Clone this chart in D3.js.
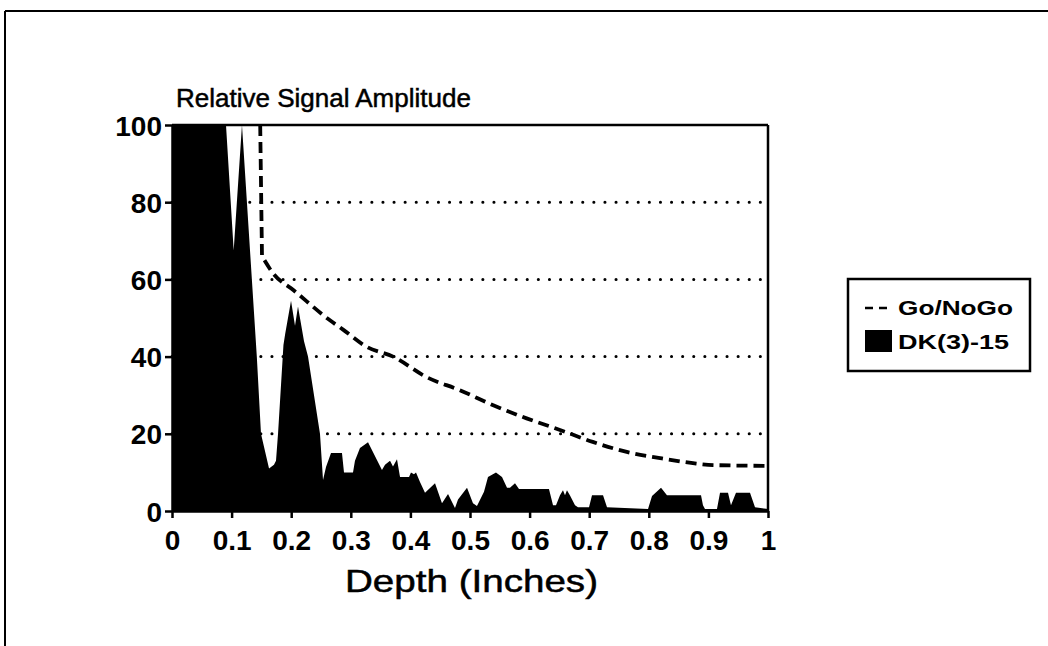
<!DOCTYPE html>
<html>
<head>
  <meta charset="UTF-8">
  <title>Relative Signal Amplitude</title>
  <script src="https://d3js.org/d3.v7.min.js"></script>
  <style>
    body { margin: 0; background: #fff; font-family: "Liberation Sans", Arial, sans-serif; }
    svg text { fill: #000; }
  </style>
</head>
<body>
  <div id="chart"></div>
  <script>
    // DK(3)-15 signal, depth (in) vs amplitude
    const signalDepth = [0, 0.0906, 0.1035, 0.1174, 0.1423, 0.1493, 0.1628, 0.1711, 0.1745, 0.1779, 0.187, 0.190, 0.1997, 0.2064, 0.2114, 0.2215, 0.2282, 0.2483, 0.2534,
      0.2584, 0.2668, 0.2852, 0.2886, 0.3037, 0.3070, 0.3154, 0.3289, 0.3523, 0.3574, 0.3658, 0.3708, 0.3775, 0.3826, 0.3977, 0.4010, 0.4060, 0.4094, 0.4161, 0.4245,
      0.4413, 0.4530, 0.4631, 0.4748, 0.4799, 0.4950, 0.5050, 0.5117, 0.5235, 0.5302, 0.5436, 0.5537, 0.5621, 0.5671, 0.5755, 0.5822, 0.6325, 0.6393, 0.6443,
      0.6510, 0.6560, 0.6594, 0.6627, 0.6678, 0.6762, 0.6812, 0.6997, 0.7047, 0.7232, 0.7299, 0.7987, 0.8054, 0.8205, 0.8305, 0.8876, 0.8909, 0.8943, 0.9144,
      0.9195, 0.9329, 0.9379, 0.9463, 0.9698, 0.9782, 1.0];
    const signalAmp = [100, 100, 67.5, 100, 40, 20, 11, 12, 13, 20, 43, 46, 54.5, 48, 53, 44, 40, 20, 8,
      11.4, 15, 15, 10, 10, 13, 16.3, 17.8, 10.6, 12, 13, 11.5, 13.4, 8.8, 8.8, 10, 9.5, 10, 7.5, 4.7,
      7.2, 2, 4.4, 0.8, 3, 6, 2, 1.3, 5, 8.8, 10, 8.8, 6, 6, 7.2, 5.7, 5.7, 1.5, 1.5,
      4.1, 5.4, 4.1, 5.4, 4, 1.5, 1, 1, 4.1, 4.1, 1, 0.5, 3.9, 6, 4.1, 4.1, 1.5, 0.5, 0.5,
      4.7, 4.7, 1.5, 4.7, 4.7, 1, 0.5];

    // Go/NoGo threshold curve
    const limitDepth = [0.148, 0.151, 0.170, 0.204, 0.265, 0.287, 0.327, 0.371, 0.427, 0.483, 0.539, 0.595, 0.651, 0.706, 0.763, 0.819, 0.874, 0.908, 1.0];
    const limitAmp = [100, 66, 61.5, 57.2, 49.4, 47, 42.5, 40, 34.7, 31.3, 27.4, 24, 21, 17.9, 15.3, 13.7, 12.4, 11.9, 11.7];

    const xTicks = [0, 0.1, 0.2, 0.3, 0.4, 0.5, 0.6, 0.7, 0.8, 0.9, 1];
    const yTicks = [0, 20, 40, 60, 80, 100];
    const gridValues = [20, 40, 60, 80];
    const seriesNames = ["Go/NoGo", "DK(3)-15"];

    const W = 1048, H = 646;
    const margin = { top: 125, left: 172 };
    const width = 596, height = 386;

    const svg = d3.select("#chart").append("svg")
      .attr("width", W).attr("height", H);

    // outer frame (top + left edges visible)
    svg.append("line").attr("x1", 5).attr("x2", W).attr("y1", 11).attr("y2", 11)
      .attr("stroke", "#000").attr("stroke-width", 2);
    svg.append("line").attr("x1", 5).attr("x2", 5).attr("y1", 11).attr("y2", H)
      .attr("stroke", "#000").attr("stroke-width", 2);

    const g = svg.append("g").attr("transform", `translate(${margin.left},${margin.top})`);

    const x = d3.scaleLinear().domain([0, 1]).range([0, width]);
    const y = d3.scaleLinear().domain([0, 100]).range([height, 0]);

    g.append("clipPath").attr("id", "plotClip")
      .append("rect").attr("width", width).attr("height", height);

    // dotted grid
    g.selectAll(".grid").data(gridValues).enter().append("line")
      .attr("class", "grid")
      .attr("x1", 0).attr("x2", width)
      .attr("y1", d => y(d)).attr("y2", d => y(d))
      .attr("stroke", "#000").attr("stroke-width", 3)
      .attr("stroke-linecap", "round")
      .attr("stroke-dasharray", "0.1 11");

    const signal = signalDepth.map((d, i) => ({ x: d, y: signalAmp[i] }));
    const limit = limitDepth.map((d, i) => ({ x: d, y: limitAmp[i] }));

    const area = d3.area().x(d => x(d.x)).y0(y(0)).y1(d => y(d.y));
    g.append("path").datum(signal)
      .attr("clip-path", "url(#plotClip)")
      .attr("d", area).attr("fill", "#000");

    const line = d3.line().x(d => x(d.x)).y(d => y(d.y)).curve(d3.curveMonotoneX);
    g.append("path").datum(limit)
      .attr("clip-path", "url(#plotClip)")
      .attr("d", d3.line().x(d => x(d.x)).y(d => y(d.y))(limit.slice(0, 2)) + line(limit.slice(1)).replace(/^M/, "L"))
      .attr("fill", "none").attr("stroke", "#000")
      .attr("stroke-width", 3.8).attr("stroke-dasharray", "11 6");

    // plot frame: top and right
    g.append("line").attr("x1", 0).attr("x2", width).attr("y1", 0).attr("y2", 0)
      .attr("stroke", "#000").attr("stroke-width", 2.5);
    g.append("line").attr("x1", width).attr("x2", width).attr("y1", 0).attr("y2", height)
      .attr("stroke", "#000").attr("stroke-width", 2.5);

    const xAxis = g.append("g").attr("transform", `translate(0,${height})`)
      .call(d3.axisBottom(x).tickValues(xTicks).tickFormat(d => String(d)).tickSize(7).tickSizeOuter(0).tickPadding(12));
    const yAxis = g.append("g")
      .call(d3.axisLeft(y).tickValues(yTicks).tickSize(7).tickSizeOuter(0).tickPadding(3));

    [xAxis, yAxis].forEach(ax => {
      ax.select(".domain").attr("stroke", "#000").attr("stroke-width", 2.5);
      ax.selectAll(".tick line").attr("stroke", "#000").attr("stroke-width", 2.5);
      ax.selectAll(".tick text")
        .attr("font-family", "'Liberation Sans', Arial, sans-serif")
        .attr("font-size", 28).attr("font-weight", "bold").attr("fill", "#000");
    });
    yAxis.selectAll(".tick text").attr("dy", "0.36em");

    svg.append("text")
      .attr("x", 176).attr("y", 107)
      .attr("font-size", 26).attr("stroke", "#000").attr("stroke-width", 0.5)
      .text("Relative Signal Amplitude");

    svg.append("text")
      .attr("x", 345).attr("y", 592)
      .attr("font-size", 32).attr("stroke", "#000").attr("stroke-width", 0.5)
      .attr("textLength", 253).attr("lengthAdjust", "spacingAndGlyphs")
      .text("Depth (Inches)");

    // legend
    const lg = svg.append("g").attr("transform", "translate(848,279)");
    lg.append("rect").attr("width", 182).attr("height", 92)
      .attr("fill", "#fff").attr("stroke", "#000").attr("stroke-width", 2.5);
    lg.append("line").attr("x1", 17).attr("x2", 45).attr("y1", 29).attr("y2", 29)
      .attr("stroke", "#000").attr("stroke-width", 2.5).attr("stroke-dasharray", "8 6");
    lg.append("rect").attr("x", 17).attr("y", 51).attr("width", 27).attr("height", 22).attr("fill", "#000");
    const legendWidths = [115, 111];
    lg.selectAll(".ltext").data(seriesNames).enter().append("text")
      .attr("class", "ltext")
      .attr("x", 50).attr("y", (d, i) => 29 + i * 34)
      .attr("dy", "0.36em")
      .attr("font-size", 20).attr("font-weight", "bold")
      .attr("textLength", (d, i) => legendWidths[i]).attr("lengthAdjust", "spacingAndGlyphs")
      .text(d => d);
  </script>
</body>
</html>
